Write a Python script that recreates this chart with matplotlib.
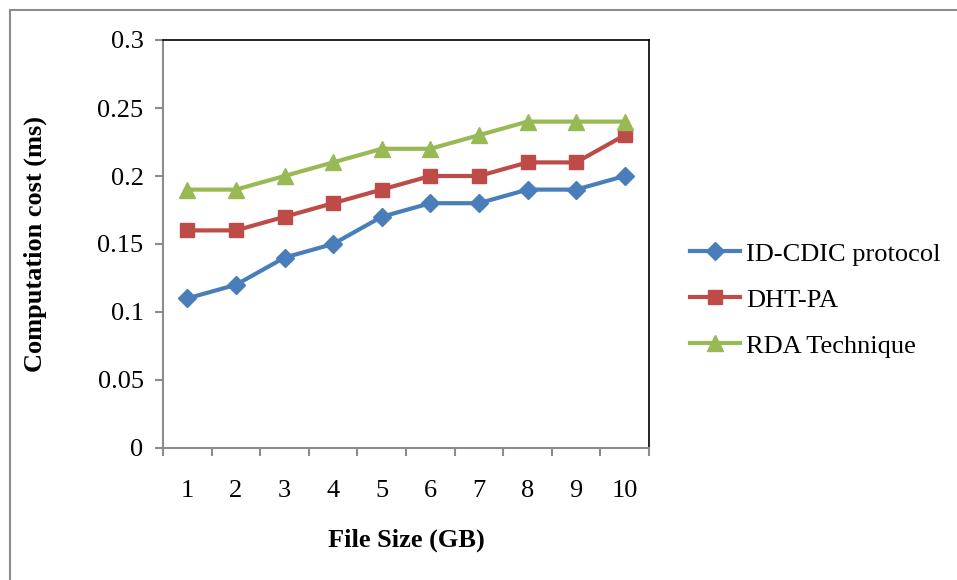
import numpy as np
import matplotlib.pyplot as plt
from matplotlib.patches import Rectangle

# datos
file_size = [1, 2, 3, 4, 5, 6, 7, 8, 9, 10]
id_cdic = [0.11, 0.12, 0.14, 0.15, 0.17, 0.18, 0.18, 0.19, 0.19, 0.20]
dht_pa = [0.16, 0.16, 0.17, 0.18, 0.19, 0.20, 0.20, 0.21, 0.21, 0.23]
rda = [0.19, 0.19, 0.20, 0.21, 0.22, 0.22, 0.23, 0.24, 0.24, 0.24]

plt.rcParams['font.family'] = ['Liberation Serif', 'DejaVu Serif']

fig = plt.figure(figsize=(9.57, 5.8), dpi=100)
ax = fig.add_axes([163/957, 1-448/580, (649-163)/957, (448-40)/580])

# borde exterior del grafico
fig.patches.append(Rectangle((10/957, -0.1), 1.2, 1-10/580+0.1, transform=fig.transFigure,
                             fill=False, edgecolor='#8c8c8c', linewidth=1.5))

ax.plot(file_size, id_cdic, color='#4a7ebb', lw=3, marker='D', ms=9, label='ID-CDIC protocol')
ax.plot(file_size, dht_pa, color='#be4b48', lw=3, marker='s', ms=10, label='DHT-PA')
ax.plot(file_size, rda, color='#98b954', lw=3, marker='^', ms=11, label='RDA Technique')

ax.set_xlim(0.5, 10.5)
ax.set_ylim(0, 0.3)
ax.set_yticks(np.arange(0, 0.31, 0.05))
ax.set_yticklabels(['0', '0.05', '0.1', '0.15', '0.2', '0.25', '0.3'])
ax.set_xticks(np.arange(0.5, 10.6, 1))
ax.set_xticklabels([])
ax.set_xticks(file_size, minor=True)
ax.set_xticklabels([str(v) for v in file_size], minor=True)
ax.tick_params(axis='x', which='minor', length=0, pad=23, labelsize=19)
ax.tick_params(axis='x', which='major', length=6, color='#8c8c8c', width=1.5)
ax.tick_params(axis='y', length=6, color='#8c8c8c', width=1.5, labelsize=19, pad=8)

ax.spines['left'].set_color('#8c8c8c')
ax.spines['bottom'].set_color('#8c8c8c')
ax.spines['left'].set_linewidth(1.5)
ax.spines['bottom'].set_linewidth(1.5)
ax.spines['top'].set_linewidth(1.2)
ax.spines['right'].set_linewidth(1.2)

ax.set_xlabel('File Size (GB)', fontsize=19, fontweight='bold', labelpad=19.5)
ax.set_ylabel('Computation cost (ms)', fontsize=19, fontweight='bold', labelpad=36)

ax.legend(loc='center left', bbox_to_anchor=(1.035, 0.363), frameon=False, fontsize=19,
          handlelength=1.9, labelspacing=0.85, handletextpad=0.25)

plt.savefig('out.png', dpi=100)
